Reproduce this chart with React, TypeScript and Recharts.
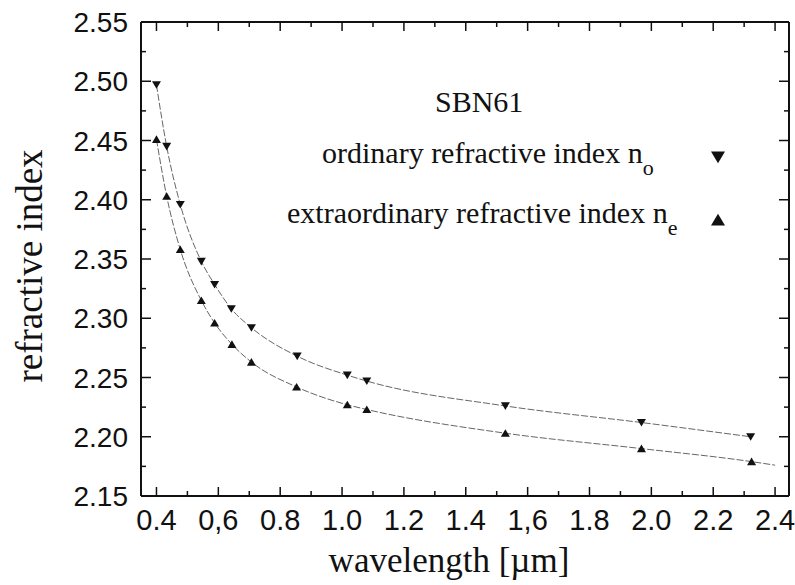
import React from 'react'
import { ComposedChart, Line, Scatter, XAxis, YAxis, ReferenceLine } from 'recharts'

// measured points, ordinary index n_o (down triangles)
const wavelengthOrdinary = [0.4, 0.433, 0.477, 0.545, 0.588, 0.642, 0.707, 0.855, 1.017, 1.08, 1.528, 1.968, 2.321]
const indexOrdinary = [2.497, 2.445, 2.396, 2.348, 2.3285, 2.308, 2.292, 2.268, 2.252, 2.247, 2.226, 2.212, 2.2]

// measured points, extraordinary index n_e (up triangles)
const wavelengthExtra = [0.4, 0.433, 0.477, 0.545, 0.588, 0.644, 0.707, 0.853, 1.017, 1.08, 1.528, 1.968, 2.324]
const indexExtra = [2.451, 2.403, 2.358, 2.315, 2.296, 2.278, 2.263, 2.242, 2.227, 2.223, 2.203, 2.19, 2.179]

// the fitted n_e curve keeps going a bit past the last point
const extraFitTailWavelength = [2.4]
const extraFitTailIndex = [2.176]

const xMajorTicks = [0.4, 0.6, 0.8, 1.0, 1.2, 1.4, 1.6, 1.8, 2.0, 2.2, 2.4]
const xTickLabels = ['0.4', '0,6', '0.8', '1.0', '1.2', '1.4', '1,6', '1.8', '2.0', '2.2', '2.4']
const xMinorTicks = [0.5, 0.7, 0.9, 1.1, 1.3, 1.5, 1.7, 1.9, 2.1, 2.3]

const yMajorTicks = [2.15, 2.2, 2.25, 2.3, 2.35, 2.4, 2.45, 2.5, 2.55]
const yTickLabels = ['2.15', '2.20', '2.25', '2.30', '2.35', '2.40', '2.45', '2.50', '2.55']
const yMinorTicks = [2.175, 2.225, 2.275, 2.325, 2.375, 2.425, 2.475, 2.525]

const W = 795
const H = 585
const MARGIN = { top: 22, right: 6, left: 0, bottom: 0 }
const Y_AXIS_W = 141
const X_AXIS_H = 89
const PLOT_W = W - MARGIN.left - MARGIN.right - Y_AXIS_W
const PLOT_H = H - MARGIN.top - MARGIN.bottom - X_AXIS_H
const INK = '#111'
const SANS = '"Liberation Sans", Arial, sans-serif'
const SERIF = '"Liberation Serif", "Times New Roman", serif'

const toPoints = (xs: number[], ys: number[]) => xs.map((x, i) => ({ x, y: ys[i] }))

const ordinaryPoints = toPoints(wavelengthOrdinary, indexOrdinary)
const extraPoints = toPoints(wavelengthExtra, indexExtra)
const extraFit = [...extraPoints, ...toPoints(extraFitTailWavelength, extraFitTailIndex)]

const findMajor = (list: number[], v: number) => list.findIndex((t) => Math.abs(t - v) < 1e-6)

const XTick = (props: any) => {
  const { x, y, payload } = props
  const i = findMajor(xMajorTicks, payload.value)
  const len = i >= 0 ? 9 : 5
  const top = y - PLOT_H
  return (
    <g>
      <line x1={x} x2={x} y1={y} y2={y - len} stroke={INK} strokeWidth={1.5} />
      <line x1={x} x2={x} y1={top} y2={top + len} stroke={INK} strokeWidth={1.5} />
      {i >= 0 && (
        <text x={x} y={y + 34} textAnchor="middle" fontFamily={SANS} fontSize={29} fill={INK}>
          {xTickLabels[i]}
        </text>
      )}
    </g>
  )
}

const YTick = (props: any) => {
  const { x, y, payload } = props
  const i = findMajor(yMajorTicks, payload.value)
  const len = i >= 0 ? 10 : 5
  const right = x + PLOT_W
  return (
    <g>
      <line x1={x} x2={x + len} y1={y} y2={y} stroke={INK} strokeWidth={1.5} />
      <line x1={right} x2={right - len} y1={y} y2={y} stroke={INK} strokeWidth={1.5} />
      {i >= 0 && (
        <text x={x - 13} y={y + 10} textAnchor="end" fontFamily={SANS} fontSize={28} fill={INK}>
          {yTickLabels[i]}
        </text>
      )}
    </g>
  )
}

const triangle = (cx: number, cy: number, r: number, down: boolean) => {
  const d = down
    ? `M${cx - r},${cy - r * 0.8} L${cx + r},${cy - r * 0.8} L${cx},${cy + r * 0.9} Z`
    : `M${cx - r},${cy + r * 0.8} L${cx + r},${cy + r * 0.8} L${cx},${cy - r * 0.9} Z`
  return <path d={d} fill={INK} />
}

const DownMarker = (p: any) => triangle(p.cx, p.cy, 4.5, true)
const UpMarker = (p: any) => triangle(p.cx, p.cy, 4.5, false)

export default function App() {
  return (
    <div style={{ position: 'absolute', left: 0, top: 0, width: W, height: H, background: '#fff' }}>
      <ComposedChart width={W} height={H} margin={MARGIN}>
        <XAxis
          type="number"
          dataKey="x"
          domain={[0.35, 2.445]}
          allowDataOverflow
          ticks={[...xMajorTicks, ...xMinorTicks].sort((a, b) => a - b)}
          interval={0}
          height={X_AXIS_H}
          tickSize={0}
          tickMargin={0}
          tickLine={false}
          tick={<XTick />}
          axisLine={{ stroke: INK, strokeWidth: 2 }}
        />
        <YAxis
          type="number"
          dataKey="y"
          domain={[2.15, 2.55]}
          allowDataOverflow
          ticks={[...yMajorTicks, ...yMinorTicks].sort((a, b) => a - b)}
          interval={0}
          width={Y_AXIS_W}
          tickSize={0}
          tickMargin={0}
          tickLine={false}
          tick={<YTick />}
          axisLine={{ stroke: INK, strokeWidth: 2 }}
        />
        <ReferenceLine y={2.55} stroke={INK} strokeWidth={2} />
        <ReferenceLine x={2.445} stroke={INK} strokeWidth={2} />
        <Line
          data={ordinaryPoints}
          dataKey="y"
          type="monotone"
          stroke="#666"
          strokeWidth={1}
          strokeDasharray="7 2"
          dot={false}
          isAnimationActive={false}
        />
        <Line
          data={extraFit}
          dataKey="y"
          type="monotone"
          stroke="#666"
          strokeWidth={1}
          strokeDasharray="7 2"
          dot={false}
          isAnimationActive={false}
        />
        <Scatter data={ordinaryPoints} dataKey="y" shape={DownMarker} isAnimationActive={false} />
        <Scatter data={extraPoints} dataKey="y" shape={UpMarker} isAnimationActive={false} />
      </ComposedChart>

      <svg width={W} height={H} style={{ position: 'absolute', left: 0, top: 0, pointerEvents: 'none' }}>
        <text x={449} y={572} textAnchor="middle" fontFamily={SERIF} fontSize={35} fill={INK}>
          wavelength [µm]
        </text>
        <text
          x={42}
          y={266}
          textAnchor="middle"
          transform="rotate(-90 42 266)"
          fontFamily={SERIF}
          fontSize={37}
          fill={INK}
        >
          refractive index
        </text>
        <text x={435} y={112} fontFamily={SERIF} fontSize={30} fill={INK}>
          SBN61
        </text>
        <text x={322} y={163} fontFamily={SERIF} fontSize={30} fill={INK}>
          ordinary refractive index n
          <tspan dy={12} fontSize={22}>o</tspan>
        </text>
        <text x={287} y={223} fontFamily={SERIF} fontSize={30} fill={INK}>
          extraordinary refractive index n
          <tspan dy={12} fontSize={22}>e</tspan>
        </text>
        {triangle(718, 157, 7, true)}
        {triangle(718, 220, 7, false)}
      </svg>
    </div>
  )
}
